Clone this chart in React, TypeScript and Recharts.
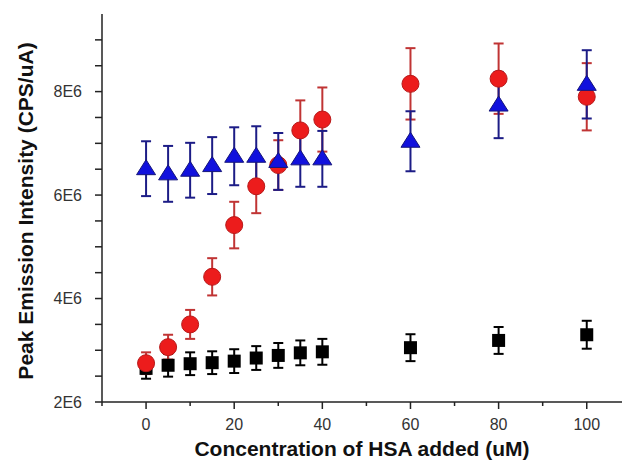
import { ScatterChart, Scatter, XAxis, YAxis, ErrorBar } from 'recharts';

const CONC = [0, 5, 10, 15, 20, 25, 30, 35, 40, 60, 80, 100];

const BLACK_Y = [2.65, 2.71, 2.74, 2.76, 2.79, 2.85, 2.9, 2.95, 2.97, 3.05, 3.19, 3.3];
const BLACK_ERR = [0.2, 0.22, 0.22, 0.22, 0.23, 0.23, 0.24, 0.24, 0.25, 0.26, 0.26, 0.27];

const RED_Y = [2.75, 3.06, 3.5, 4.42, 5.42, 6.17, 6.58, 7.25, 7.46, 8.15, 8.25, 7.9];
const RED_ERR = [0.21, 0.24, 0.28, 0.36, 0.45, 0.52, 0.48, 0.58, 0.62, 0.69, 0.68, 0.65];

const BLUE_Y = [6.51, 6.41, 6.48, 6.57, 6.75, 6.75, 6.65, 6.7, 6.7, 7.04, 7.74, 8.14];
const BLUE_ERR = [0.53, 0.54, 0.53, 0.55, 0.56, 0.58, 0.55, 0.54, 0.54, 0.58, 0.64, 0.66];

const X_TICKS = [-10, 0, 10, 20, 30, 40, 50, 60, 70, 80, 90, 100];
const Y_TICKS = [2, 2.5, 3, 3.5, 4, 4.5, 5, 5.5, 6, 6.5, 7, 7.5, 8, 8.5, 9].map((v) => v * 1e6);

const FONT = '"Liberation Sans", Arial, sans-serif';
const AXIS = '#222';

const toRows = (ys: number[], errs: number[]) =>
  CONC.map((x, i) => ({ x, y: ys[i] * 1e6, err: errs[i] * 1e6 }));

const blackRows = toRows(BLACK_Y, BLACK_ERR);
const redRows = toRows(RED_Y, RED_ERR);
const blueRows = toRows(BLUE_Y, BLUE_ERR);

const Square = (p: any) => (
  <rect x={p.cx - 6.5} y={p.cy - 6.5} width={13} height={13} fill="#000" />
);

const Dot = (p: any) => (
  <circle cx={p.cx} cy={p.cy} r={8.5} fill="#ec1c1c" stroke="#b81818" strokeWidth={1} />
);

const Tri = (p: any) => (
  <polygon
    points={`${p.cx},${p.cy - 9} ${p.cx + 9.5},${p.cy + 6} ${p.cx - 9.5},${p.cy + 6}`}
    fill="#1111dd"
    stroke="#15157a"
    strokeWidth={1}
  />
);

function XTick(props: any) {
  const { x, y, payload } = props;
  const v = payload.value;
  const major = v % 20 === 0;
  return (
    <g>
      <line x1={x} x2={x} y1={y} y2={y + (major ? 7 : 4)} stroke={AXIS} strokeWidth={1.5} />
      {major && (
        <text x={x} y={y + 28} textAnchor="middle" fontSize={16} fill="#333" fontFamily={FONT}>
          {v}
        </text>
      )}
    </g>
  );
}

export default function App() {
  return (
    <div style={{ position: 'fixed', left: 0, top: 0, width: 622, height: 461, background: '#fff' }}>
      <ScatterChart width={622} height={461} margin={{ top: 14, right: 0, bottom: 0, left: 0 }}>
        <XAxis
          type="number"
          dataKey="x"
          domain={[-10, 108]}
          ticks={X_TICKS}
          tick={<XTick />}
          tickLine={false}
          tickSize={0}
          tickMargin={0}
          height={59}
          axisLine={{ stroke: AXIS, strokeWidth: 1.5 }}
          label={{
            value: 'Concentration of HSA added (uM)',
            position: 'center',
            dy: 17,
            fontSize: 21,
            fontWeight: 'bold',
            fill: '#111',
            fontFamily: FONT,
          }}
        />
        <YAxis
          type="number"
          dataKey="y"
          domain={[2e6, 9.5e6]}
          ticks={Y_TICKS}
          interval={0}
          width={102}
          tickSize={7}
          tickMargin={13}
          tickFormatter={(v: number) => (v % 2e6 === 0 ? `${v / 1e6}E6` : '')}
          tick={{ fontSize: 16, fill: '#333', fontFamily: FONT }}
          tickLine={{ stroke: AXIS, strokeWidth: 1.5 }}
          axisLine={{ stroke: AXIS, strokeWidth: 1.5 }}
          label={{
            value: 'Peak Emission Intensity (CPS/uA)',
            angle: -90,
            position: 'center',
            dx: -25,
            dy: 3,
            fontSize: 21,
            fontWeight: 'bold',
            fill: '#111',
            fontFamily: FONT,
          }}
        />
        <Scatter data={blackRows} shape={Square} isAnimationActive={false}>
          <ErrorBar dataKey="err" direction="y" width={5} stroke="#000" strokeWidth={2} />
        </Scatter>
        <Scatter data={redRows} shape={Dot} isAnimationActive={false}>
          <ErrorBar dataKey="err" direction="y" width={5} stroke="#c03434" strokeWidth={2} />
        </Scatter>
        <Scatter data={blueRows} shape={Tri} isAnimationActive={false}>
          <ErrorBar dataKey="err" direction="y" width={5} stroke="#1c1c86" strokeWidth={2} />
        </Scatter>
      </ScatterChart>
    </div>
  );
}
